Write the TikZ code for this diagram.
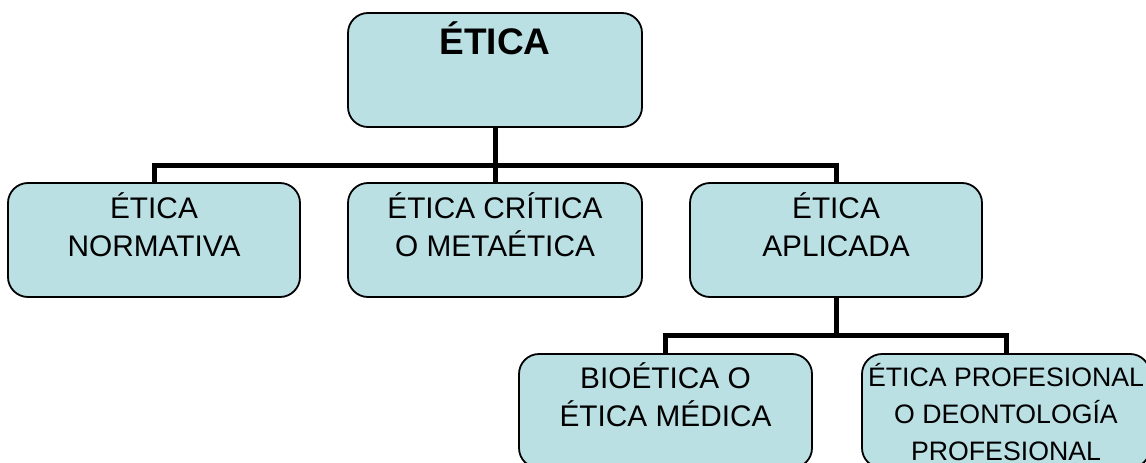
\documentclass[tikz,border=0pt]{standalone}
\usepackage{fontspec}
\setmainfont{Liberation Sans}
\definecolor{boxfill}{RGB}{186,224,228}
\newcommand\bxt[4]{\parbox[c][#1pt][t]{#2pt}{\fontsize{#3}{38}\selectfont\centering#4}}
\tikzset{
  ebox/.style={draw=black, fill=boxfill, line width=1.8pt, rounded corners=20pt, inner sep=0pt, outer sep=0pt},
  conn/.style={draw=black, line width=5pt}
}
\begin{document}
\begin{tikzpicture}[x=1pt,y=-1pt]
\clip (0,0) rectangle (1146,463);
\fill[white] (0,0) rectangle (1146,463);
\coordinate (bar1) at (495,165);
\coordinate (bar2) at (736,335);
\node[ebox] (top) at (495,70) {\bxt{114}{294}{37}{\bfseries\rule{0pt}{41pt}ÉTICA}};
\node[ebox] (b1) at (154,240) {\bxt{114}{292}{29.8}{\rule{0pt}{35.5pt}ÉTICA\\NORMATIVA}};
\node[ebox] (b2) at (495,240) {\bxt{114}{294}{29.8}{\rule{0pt}{35.5pt}ÉTICA CRÍTICA\\O METAÉTICA}};
\node[ebox] (b3) at (836,240) {\bxt{114}{292}{29.8}{\rule{0pt}{35.5pt}ÉTICA\\APLICADA}};
\node[ebox] (b4) at (665.5,411) {\bxt{114}{293}{29.8}{\rule{0pt}{34.5pt}BIOÉTICA O\\ÉTICA MÉDICA}};
\node[ebox] (b5) at (1006,411) {\bxt{114}{288}{26.7}{\fontsize{26.7}{37}\selectfont\rule{0pt}{32pt}ÉTICA PROFESIONAL\\O DEONTOLOGÍA\\PROFESIONAL}};
\draw[conn] (top.south) -- (b2.north);
\draw[conn] (b1.north) |- (bar1) -| (b3.north);
\draw[conn] (b3.south) -- (b3.south |- bar2);
\draw[conn] (b4.north) |- (bar2) -| (b5.north);
\end{tikzpicture}
\end{document}
